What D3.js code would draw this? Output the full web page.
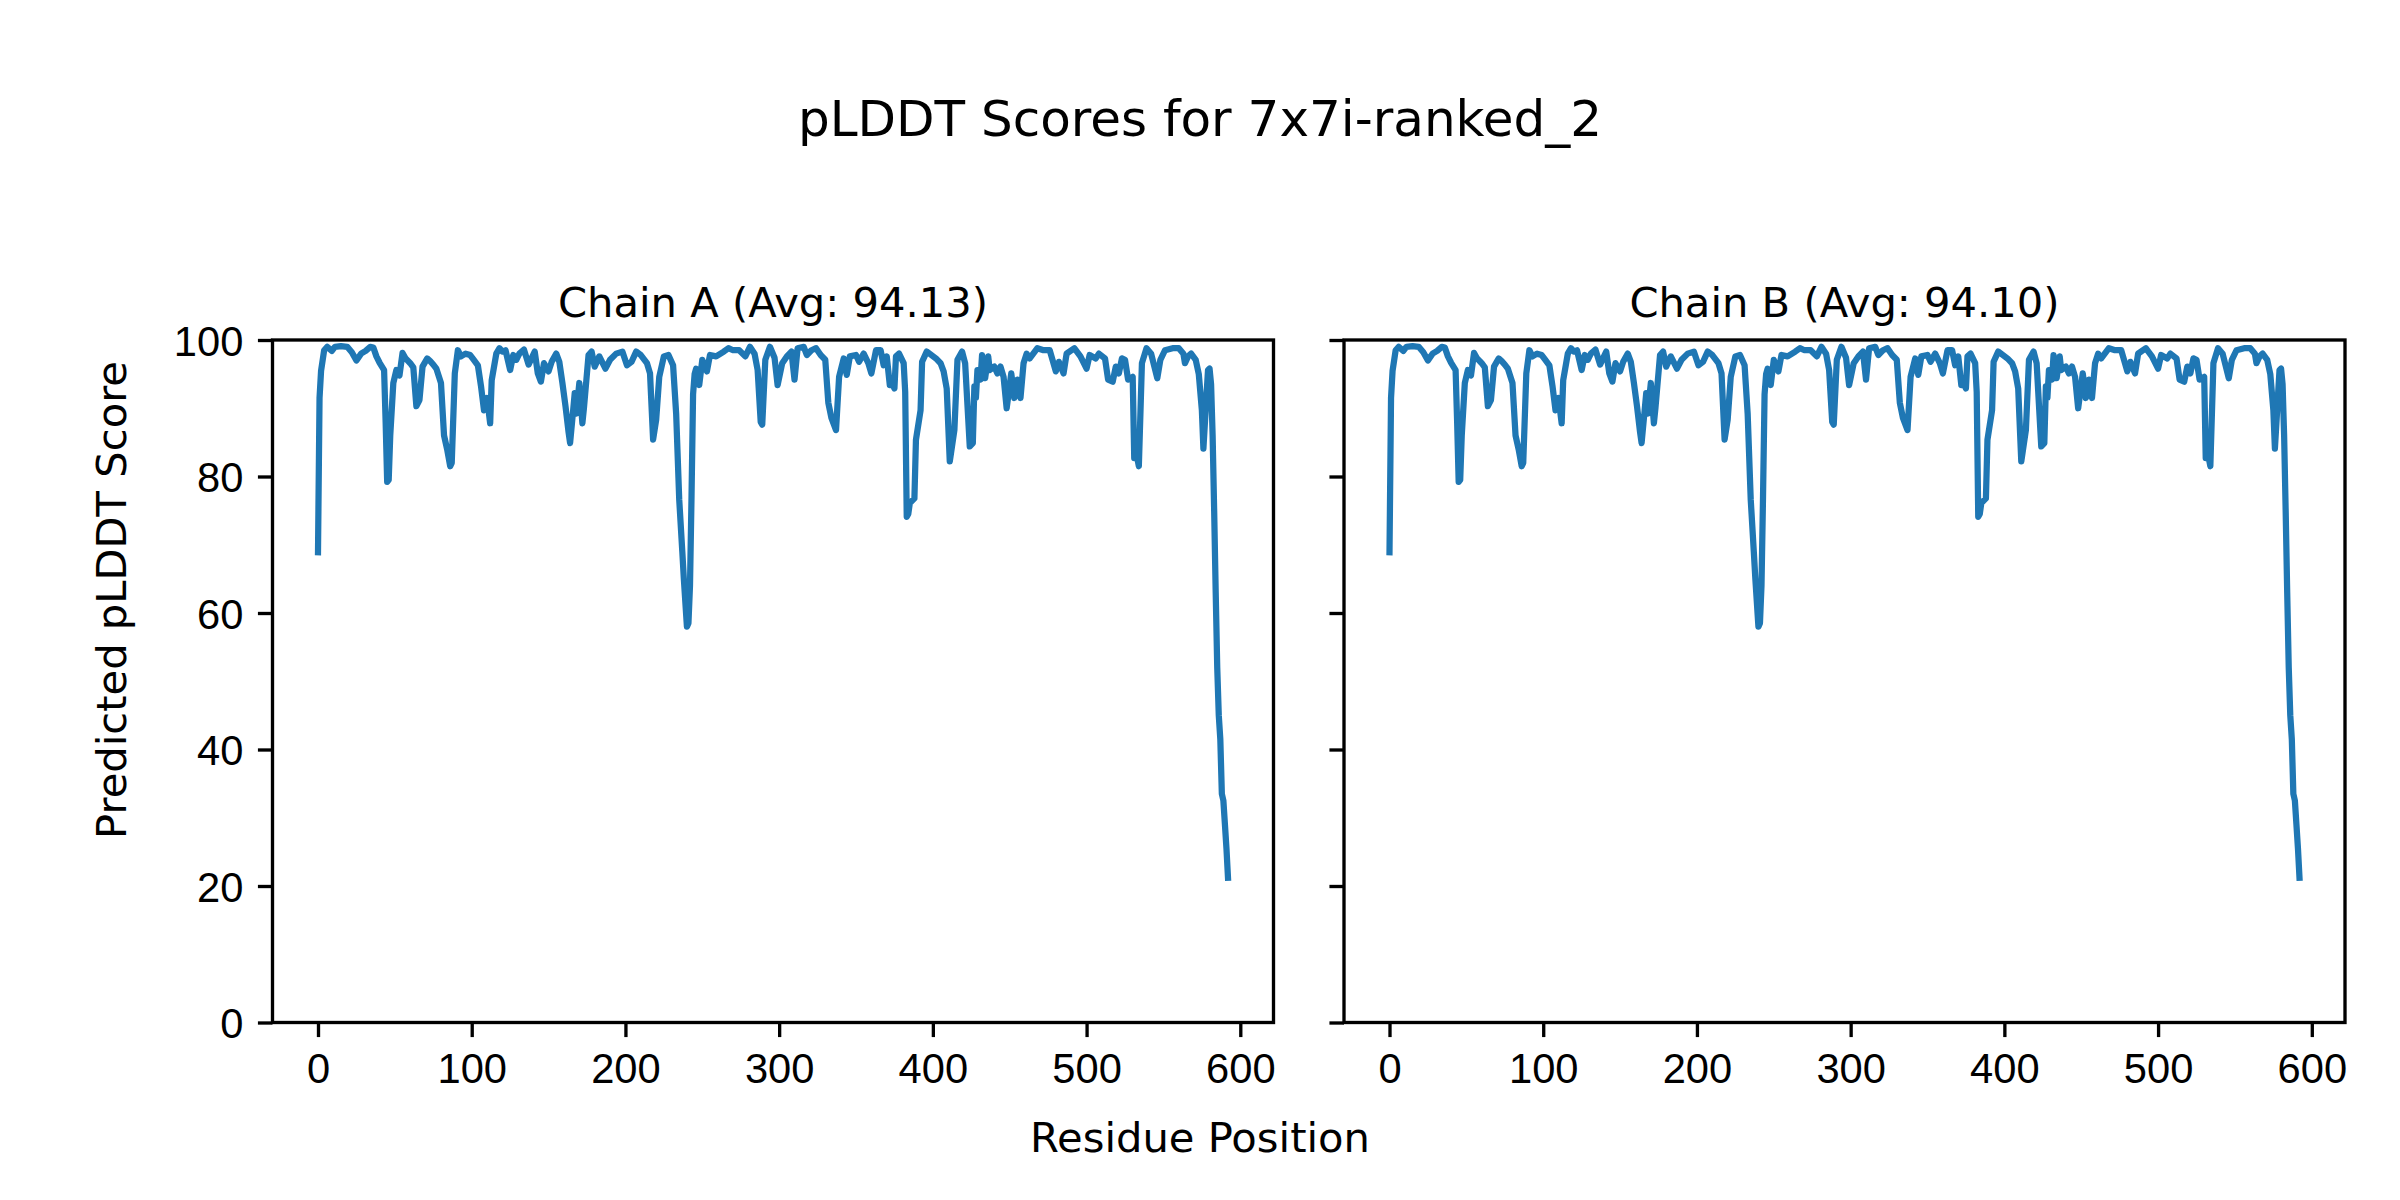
<!DOCTYPE html>
<html lang="en">
<head>
<meta charset="utf-8">
<title>pLDDT Scores for 7x7i-ranked_2</title>
<script src="https://cdn.jsdelivr.net/npm/d3@7"></script>
<style>
  body { margin: 0; background: #fff; }
  svg { display: block; font-family: "DejaVu Sans", sans-serif; }
  .tick text { font-size: 41.67px; fill: #000; }
  .tick line { stroke: #000; stroke-width: 3.33px; }
</style>
</head>
<body>
<svg id="chart" width="2400" height="1200"></svg>
<script>
  // residue positions and pLDDT scores
  var residues = [
    0, 1, 2, 4, 6, 9, 11, 15, 19, 22, 25, 28, 31, 34, 36, 38, 40, 43, 44, 45, 46, 47, 49, 51, 53, 55, 57,
    60, 62, 64, 66, 68, 71, 73, 75, 77, 80, 82, 84, 86, 87, 89, 91, 93, 96, 99, 101, 104, 106, 108, 110,
    112, 113, 116, 118, 120, 122, 125, 127, 129, 131, 134, 137, 141, 143, 145, 147, 150, 152, 155, 157,
    159, 161, 163, 164, 166, 167, 168, 170, 172, 173, 176, 178, 180, 183, 187, 190, 194, 198, 201, 204,
    207, 210, 214, 216, 218, 220, 222, 225, 228, 231, 233, 235, 237, 238, 240, 241, 242, 243, 244, 245,
    246, 248, 250, 253, 255, 259, 264, 267, 270, 274, 278, 281, 284, 286, 288, 289, 291, 294, 297, 299,
    302, 305, 308, 310, 312, 316, 318, 321, 324, 327, 330, 332, 334, 337, 339, 342, 344, 346, 350, 352,
    355, 358, 360, 363, 366, 368, 370, 372, 374, 375, 376, 378, 381, 382, 383, 384, 385, 388, 389, 392,
    393, 396, 399, 402, 405, 407, 409, 411, 414, 416, 419, 421, 424, 426, 427, 428, 429, 431, 432, 434,
    436, 437, 440, 442, 444, 446, 448, 451, 453, 455, 457, 459, 461, 463, 468, 472, 476, 480, 482, 485,
    487, 492, 496, 500, 502, 506, 508, 512, 514, 517, 519, 521, 523, 525, 527, 530, 531, 533, 534, 536,
    539, 542, 546, 548, 551, 556, 560, 563, 564, 566, 568, 571, 573, 575, 576, 578, 579, 580, 581, 582,
    583, 584, 585, 586, 587, 588, 589, 590, 591, 592
  ];
  var chainAScore = [
    68.9, 91.5, 95.5, 98.5, 99.0, 98.4, 99.0, 99.1, 99.0, 98.2, 97.0, 98.0, 98.4, 99.0, 98.9, 97.6, 96.7, 95.6, 88.0, 79.2, 79.5, 86.0, 93.7, 95.6, 94.8, 98.1, 97.3,
    96.6, 96.0, 90.3, 91.2, 96.1, 97.3, 96.9, 96.4, 95.8, 93.7, 86.0, 84.0, 81.5, 82.0, 95.1, 98.5, 97.6, 98.0, 97.8, 97.2, 96.3, 93.3, 89.7, 91.5,
    87.8, 94.1, 98.0, 98.8, 98.3, 98.5, 95.6, 97.8, 97.1, 98.0, 98.6, 96.4, 98.3, 95.1, 93.9, 96.6, 95.4, 96.8, 98.0, 96.8,
    93.7, 90.3, 86.5, 84.9, 89.7, 92.2, 89.2, 93.7, 87.8, 90.0, 97.8, 98.3, 96.1, 97.6, 95.8, 97.1, 98.0, 98.3, 96.3, 96.8,
    98.3, 97.8, 96.6, 95.1, 85.4, 88.3, 94.6, 97.6, 97.8, 96.3, 89.2, 76.6, 69.0, 65.0, 58.0, 58.5, 64.0, 77.1, 92.0, 95.0,
    95.8, 93.4, 97.1, 95.4, 97.8, 97.6, 98.3, 98.8, 98.5, 98.5, 97.6, 99.0, 98.0, 95.6, 88.0, 87.6, 97.1, 99.0, 97.4, 93.4,
    96.6, 97.6, 98.3, 94.2, 98.8, 99.0, 97.8, 98.5, 98.8, 97.8, 97.1, 90.8, 88.6, 86.8, 94.6, 97.3, 94.9, 97.6, 97.8, 96.8,
    98.0, 96.6, 95.1, 98.5, 98.5, 96.3, 97.6, 93.4, 93.4, 92.9, 97.6, 98.0, 96.6, 92.4, 74.1, 74.5, 76.1, 76.8, 85.4, 89.7,
    96.8, 98.3, 97.8, 97.3, 96.6, 95.4, 92.9, 82.2, 86.8, 97.1, 98.3, 96.6, 84.4, 84.9, 93.2, 91.5, 95.6, 94.2, 97.8, 94.4,
    97.6, 95.6, 96.1, 95.1, 96.1, 94.6, 90.0, 95.1, 91.5, 94.2, 91.5, 96.6, 98.0, 97.3, 98.8, 98.5, 98.5, 95.4, 96.8, 95.1,
    98.0, 98.8, 97.6, 95.8, 97.8, 97.3, 98.0, 97.3, 94.2, 93.9, 96.1, 95.1, 97.3, 97.1, 94.2, 94.6, 82.7, 82.7, 81.5, 96.6,
    98.8, 98.0, 94.4, 97.1, 98.5, 98.8, 98.8, 98.0, 96.6, 97.6, 98.0, 97.1, 95.0, 89.7, 84.1, 91.8, 95.6, 95.8, 93.5, 86.0,
    75.0, 63.0, 52.0, 45.0, 41.5, 33.5, 32.5, 29.0, 25.5, 21.2
  ];
  // chain B is indistinguishable from chain A at this resolution
  var chainBScore = chainAScore;

  var chainTitles = ["Chain A (Avg: 94.13)", "Chain B (Avg: 94.10)"];
  var xTicks = [0, 100, 200, 300, 400, 500, 600];
  var yTicks = [0, 20, 40, 60, 80, 100];

  var svg = d3.select("#chart");
  svg.append("rect").attr("width", 2400).attr("height", 1200).attr("fill", "#fff");

  var panelLeft = [272.5, 1344];
  var panelTop = 340, w = 1001, h = 682.5;
  var tickLen = 14.58;

  var x = d3.scaleLinear().domain([-29.6, 621.6]).range([0, w]);
  var y = d3.scaleLinear().domain([0, 100]).range([h, 0]);

  var line = d3.line()
    .x(function (d) { return x(d[0]); })
    .y(function (d) { return y(d[1]); });

  svg.append("defs").append("clipPath").attr("id", "clip")
    .append("rect").attr("width", w).attr("height", h);

  [chainAScore, chainBScore].forEach(function (scores, i) {
    var g = svg.append("g").attr("transform", "translate(" + panelLeft[i] + "," + panelTop + ")");
    var pts = residues.map(function (r, j) { return [r, scores[j]]; });

    g.append("path")
      .datum(pts)
      .attr("clip-path", "url(#clip)")
      .attr("fill", "none")
      .attr("stroke", "#1f77b4")
      .attr("stroke-width", 6.25)
      .attr("stroke-linejoin", "round")
      .attr("stroke-linecap", "square")
      .attr("d", line);

    var xAxis = g.append("g")
      .attr("transform", "translate(0," + h + ")")
      .call(d3.axisBottom(x).tickValues(xTicks).tickSize(tickLen).tickSizeOuter(0));
    xAxis.select(".domain").remove();
    xAxis.selectAll(".tick text").attr("y", 60.2).attr("dy", 0);

    var yAxis = g.append("g")
      .call(d3.axisLeft(y).tickValues(yTicks).tickSize(tickLen).tickSizeOuter(0)
        .tickFormat(i === 0 ? d3.format("d") : ""));
    yAxis.select(".domain").remove();
    yAxis.selectAll(".tick text").attr("x", -29.2).attr("dy", "0.37em");

    g.append("rect")
      .attr("width", w).attr("height", h)
      .attr("fill", "none")
      .attr("stroke", "#000")
      .attr("stroke-width", 3.33);

    g.append("text")
      .attr("x", w / 2).attr("y", -23)
      .attr("text-anchor", "middle")
      .attr("font-size", 41.67)
      .text(chainTitles[i]);
  });

  svg.append("text")
    .attr("x", 1200).attr("y", 136)
    .attr("text-anchor", "middle")
    .attr("font-size", 50)
    .text("pLDDT Scores for 7x7i-ranked_2");

  svg.append("text")
    .attr("x", 1200).attr("y", 1152)
    .attr("text-anchor", "middle")
    .attr("font-size", 41.67)
    .text("Residue Position");

  svg.append("text")
    .attr("transform", "translate(126,600) rotate(-90)")
    .attr("text-anchor", "middle")
    .attr("font-size", 41.67)
    .text("Predicted pLDDT Score");
</script>
</body>
</html>
